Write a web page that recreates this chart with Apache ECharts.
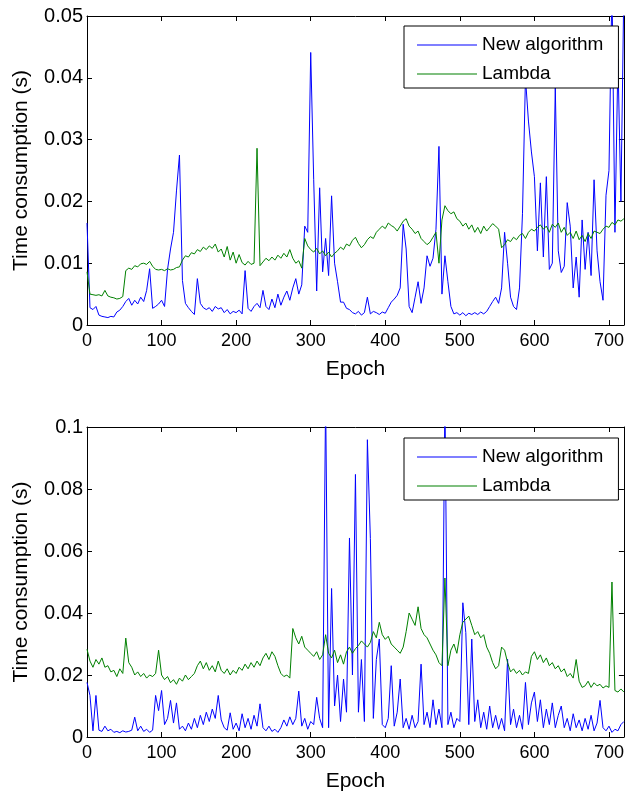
<!DOCTYPE html>
<html>
<head>
<meta charset="utf-8">
<script src="https://cdn.jsdelivr.net/npm/echarts@6/dist/echarts.min.js"></script>
<style>
html, body { margin: 0; padding: 0; background: #fff; }
#chart { width: 627px; height: 795px; }
</style>
</head>
<body>
<div id="chart"></div>
<script>
// one value every STEP epochs (rows of 10 = 40 epochs)
const STEP = 4;
const seriesNames = ['New algorithm', 'Lambda'];

// upper panel
const topNewAlgorithm = [
    0.0165, 0.0028, 0.0025, 0.0030, 0.0016, 0.0014, 0.0013, 0.0012, 0.0014, 0.0013,
    0.0021, 0.0024, 0.0030, 0.0038, 0.0043, 0.0032, 0.0040, 0.0034, 0.0045, 0.0038,
    0.0056, 0.0091, 0.0027, 0.0030, 0.0034, 0.0040, 0.0030, 0.0090, 0.0123, 0.0150,
    0.0217, 0.0275, 0.0072, 0.0035, 0.0028, 0.0022, 0.0017, 0.0075, 0.0035, 0.0028,
    0.0025, 0.0028, 0.0022, 0.0030, 0.0026, 0.0028, 0.0020, 0.0025, 0.0018, 0.0022,
    0.0020, 0.0024, 0.0018, 0.0088, 0.0027, 0.0022, 0.0030, 0.0035, 0.0028, 0.0056,
    0.0030, 0.0025, 0.0042, 0.0028, 0.0050, 0.0032, 0.0045, 0.0055, 0.0040, 0.0060,
    0.0075, 0.0050, 0.0065, 0.0160, 0.0150, 0.0441, 0.0235, 0.0055, 0.0222, 0.0086,
    0.0140, 0.0080, 0.0209, 0.0100, 0.0070, 0.0037, 0.0037, 0.0027, 0.0025, 0.0020,
    0.0018, 0.0022, 0.0016, 0.0020, 0.0045, 0.0018, 0.0022, 0.0020, 0.0017, 0.0021,
    0.0019, 0.0028, 0.0037, 0.0042, 0.0048, 0.0060, 0.0163, 0.0123, 0.0030, 0.0020,
    0.0045, 0.0070, 0.0035, 0.0060, 0.0112, 0.0095, 0.0108, 0.0155, 0.0289, 0.0050,
    0.0112, 0.0070, 0.0030, 0.0018, 0.0020, 0.0016, 0.0020, 0.0015, 0.0019, 0.0017,
    0.0020, 0.0017, 0.0021, 0.0018, 0.0022, 0.0030, 0.0038, 0.0045, 0.0035, 0.0060,
    0.0150, 0.0100, 0.0045, 0.0030, 0.0025, 0.0060, 0.0180, 0.0400, 0.0330, 0.0280,
    0.0240, 0.0120, 0.0230, 0.0110, 0.0240, 0.0090, 0.0100, 0.0385, 0.0120, 0.0085,
    0.0095, 0.0198, 0.0160, 0.0060, 0.0110, 0.0045, 0.0170, 0.0090, 0.0150, 0.0080,
    0.0235, 0.0120, 0.0070, 0.0040, 0.0210, 0.0250, 0.0550, 0.0150, 0.0430, 0.0200,
    0.0550
];
const topLambda = [
    0.0086, 0.0050, 0.0049, 0.0048, 0.0049, 0.0047, 0.0056, 0.0047, 0.0045, 0.0044,
    0.0042, 0.0043, 0.0046, 0.0088, 0.0092, 0.0090, 0.0096, 0.0094, 0.0099, 0.0100,
    0.0098, 0.0103, 0.0095, 0.0090, 0.0089, 0.0090, 0.0088, 0.0091, 0.0089, 0.0090,
    0.0093, 0.0094, 0.0105, 0.0112, 0.0110, 0.0117, 0.0115, 0.0122, 0.0119, 0.0126,
    0.0122, 0.0128, 0.0124, 0.0131, 0.0118, 0.0123, 0.0110, 0.0127, 0.0105, 0.0118,
    0.0100, 0.0114, 0.0101, 0.0097, 0.0103, 0.0098, 0.0100, 0.0286, 0.0096, 0.0102,
    0.0108, 0.0104, 0.0110, 0.0105, 0.0113, 0.0108, 0.0116, 0.0110, 0.0122, 0.0108,
    0.0100, 0.0104, 0.0092, 0.0140, 0.0128, 0.0122, 0.0118, 0.0124, 0.0115, 0.0120,
    0.0112, 0.0118, 0.0110, 0.0116, 0.0120, 0.0126, 0.0122, 0.0131, 0.0128, 0.0137,
    0.0142, 0.0132, 0.0125, 0.0130, 0.0138, 0.0143, 0.0140, 0.0150, 0.0155, 0.0160,
    0.0156, 0.0165, 0.0161, 0.0158, 0.0152, 0.0160, 0.0168, 0.0172, 0.0160, 0.0155,
    0.0148, 0.0152, 0.0140, 0.0135, 0.0130, 0.0134, 0.0142, 0.0150, 0.0100, 0.0170,
    0.0193, 0.0185, 0.0180, 0.0183, 0.0172, 0.0168, 0.0160, 0.0165, 0.0155, 0.0162,
    0.0150, 0.0158, 0.0148, 0.0160, 0.0152, 0.0158, 0.0164, 0.0160, 0.0155, 0.0125,
    0.0130, 0.0138, 0.0135, 0.0142, 0.0138, 0.0145, 0.0148, 0.0140, 0.0150, 0.0155,
    0.0152, 0.0158, 0.0162, 0.0155, 0.0160, 0.0150, 0.0163, 0.0158, 0.0165, 0.0150,
    0.0158, 0.0145, 0.0150, 0.0140, 0.0152, 0.0138, 0.0145, 0.0135, 0.0148, 0.0140,
    0.0152, 0.0150, 0.0148, 0.0155, 0.0160, 0.0158, 0.0166, 0.0162, 0.0170, 0.0168,
    0.0172
];

// lower panel
const bottomNewAlgorithm = [
    0.0176, 0.0134, 0.0020, 0.0134, 0.0022, 0.0018, 0.0035, 0.0020, 0.0025, 0.0015,
    0.0018, 0.0014, 0.0020, 0.0016, 0.0018, 0.0022, 0.0064, 0.0020, 0.0035, 0.0018,
    0.0025, 0.0015, 0.0022, 0.0134, 0.0085, 0.0150, 0.0040, 0.0060, 0.0118, 0.0045,
    0.0110, 0.0025, 0.0035, 0.0020, 0.0045, 0.0025, 0.0060, 0.0030, 0.0070, 0.0040,
    0.0080, 0.0050, 0.0090, 0.0060, 0.0134, 0.0055, 0.0030, 0.0022, 0.0078, 0.0025,
    0.0045, 0.0020, 0.0075, 0.0030, 0.0060, 0.0025, 0.0070, 0.0035, 0.0107, 0.0030,
    0.0020, 0.0035, 0.0018, 0.0025, 0.0015, 0.0030, 0.0055, 0.0035, 0.0065, 0.0040,
    0.0060, 0.0148, 0.0035, 0.0060, 0.0025, 0.0050, 0.0040, 0.0128, 0.0060, 0.0030,
    0.1100, 0.0030, 0.0479, 0.0100, 0.0200, 0.0050, 0.0187, 0.0080, 0.0642, 0.0200,
    0.0847, 0.0080, 0.0250, 0.0050, 0.0959, 0.0640, 0.0060, 0.0250, 0.0316, 0.0040,
    0.0030, 0.0060, 0.0230, 0.0035, 0.0080, 0.0187, 0.0030, 0.0060, 0.0025, 0.0070,
    0.0030, 0.0050, 0.0235, 0.0040, 0.0080, 0.0030, 0.0120, 0.0040, 0.0090, 0.0030,
    0.1100, 0.0040, 0.0080, 0.0030, 0.0060, 0.0050, 0.0433, 0.0337, 0.0040, 0.0316,
    0.0050, 0.0120, 0.0030, 0.0080, 0.0025, 0.0100, 0.0030, 0.0070, 0.0025, 0.0060,
    0.0020, 0.0251, 0.0040, 0.0090, 0.0030, 0.0070, 0.0025, 0.0176, 0.0040, 0.0110,
    0.0145, 0.0050, 0.0120, 0.0030, 0.0090, 0.0040, 0.0110, 0.0030, 0.0070, 0.0100,
    0.0030, 0.0060, 0.0020, 0.0075, 0.0030, 0.0055, 0.0020, 0.0060, 0.0025, 0.0070,
    0.0020, 0.0045, 0.0118, 0.0030, 0.0020, 0.0035, 0.0015, 0.0025, 0.0020, 0.0040,
    0.0050
];
const bottomLambda = [
    0.0283, 0.0245, 0.0225, 0.0250, 0.0235, 0.0255, 0.0225, 0.0230, 0.0210, 0.0215,
    0.0195, 0.0220, 0.0205, 0.0319, 0.0240, 0.0225, 0.0200, 0.0210, 0.0195, 0.0205,
    0.0190, 0.0200, 0.0195, 0.0205, 0.0280, 0.0200, 0.0185, 0.0195, 0.0175, 0.0185,
    0.0170, 0.0190, 0.0180, 0.0200, 0.0185, 0.0195, 0.0205, 0.0230, 0.0245, 0.0220,
    0.0240, 0.0215, 0.0230, 0.0210, 0.0245, 0.0215, 0.0205, 0.0220, 0.0200, 0.0215,
    0.0205, 0.0225, 0.0215, 0.0235, 0.0220, 0.0240, 0.0225, 0.0245, 0.0230, 0.0255,
    0.0270, 0.0250, 0.0275, 0.0260, 0.0230, 0.0205, 0.0195, 0.0200, 0.0190, 0.0350,
    0.0320, 0.0300, 0.0325, 0.0290, 0.0280, 0.0270, 0.0260, 0.0275, 0.0250, 0.0265,
    0.0330, 0.0270, 0.0255, 0.0280, 0.0240, 0.0265, 0.0235, 0.0275, 0.0290, 0.0270,
    0.0285, 0.0295, 0.0310, 0.0300, 0.0290, 0.0305, 0.0340, 0.0320, 0.0370, 0.0330,
    0.0315, 0.0325, 0.0300, 0.0290, 0.0280, 0.0270, 0.0290, 0.0340, 0.0400, 0.0380,
    0.0360, 0.0420, 0.0350, 0.0330, 0.0320, 0.0300, 0.0280, 0.0265, 0.0240, 0.0230,
    0.0513, 0.0230, 0.0280, 0.0300, 0.0270, 0.0330, 0.0370, 0.0380, 0.0390, 0.0360,
    0.0330, 0.0340, 0.0320, 0.0330, 0.0290, 0.0270, 0.0240, 0.0220, 0.0230, 0.0290,
    0.0280, 0.0240, 0.0210, 0.0220, 0.0205, 0.0215, 0.0200, 0.0210, 0.0205, 0.0260,
    0.0275, 0.0250, 0.0265, 0.0240, 0.0255, 0.0230, 0.0240, 0.0220, 0.0230, 0.0210,
    0.0220, 0.0195, 0.0205, 0.0190, 0.0250, 0.0180, 0.0160, 0.0165, 0.0180, 0.0160,
    0.0175, 0.0165, 0.0170, 0.0158, 0.0165, 0.0160, 0.0500, 0.0150, 0.0145, 0.0155,
    0.0145
];

const BLUE = '#0000ff';
const GREEN = '#008000';
const FONT = '"Liberation Sans", Arial, Helvetica, sans-serif';

function toPoints(vals) {
    return vals.map((v, i) => [i * STEP, v]);
}

function yLabel(v) {
    return String(parseFloat(v.toFixed(3)));
}

// bottom axis with labels + plain top axis (MATLAB box)
function makeXAxes(gridIndex) {
    return [
        {
            gridIndex: gridIndex, type: 'value', position: 'bottom',
            min: 0, max: 720, interval: 100,
            name: 'Epoch', nameLocation: 'middle', nameGap: 34,
            nameTextStyle: { fontSize: 21, color: '#000', fontFamily: FONT },
            axisLine: { show: true, onZero: false, lineStyle: { color: '#000', width: 1 } },
            axisTick: { show: true, inside: true, length: 5, lineStyle: { color: '#000' } },
            axisLabel: {
                margin: 7, fontSize: 18, color: '#000', fontFamily: FONT, showMaxLabel: false,
                formatter: v => (v % 100 === 0 ? String(v) : '')
            },
            splitLine: { show: false }
        },
        {
            gridIndex: gridIndex, type: 'value', position: 'top',
            min: 0, max: 720, interval: 100,
            axisLine: { show: true, onZero: false, lineStyle: { color: '#000', width: 1 } },
            axisTick: { show: true, inside: true, length: 5, lineStyle: { color: '#000' } },
            axisLabel: { show: false },
            splitLine: { show: false }
        }
    ];
}

function makeYAxes(gridIndex, max, interval) {
    return [
        {
            gridIndex: gridIndex, type: 'value', position: 'left',
            min: 0, max: max, interval: interval,
            name: 'Time consumption (s)', nameLocation: 'middle', nameGap: 55,
            nameTextStyle: { fontSize: 21, color: '#000', fontFamily: FONT },
            axisLine: { show: true, onZero: false, lineStyle: { color: '#000', width: 1 } },
            axisTick: { show: true, inside: true, length: 5, lineStyle: { color: '#000' } },
            axisLabel: { margin: 4, fontSize: 20, color: '#000', fontFamily: FONT, formatter: yLabel },
            splitLine: { show: false }
        },
        {
            gridIndex: gridIndex, type: 'value', position: 'right',
            min: 0, max: max, interval: interval,
            axisLine: { show: true, onZero: false, lineStyle: { color: '#000', width: 1 } },
            axisTick: { show: true, inside: true, length: 5, lineStyle: { color: '#000' } },
            axisLabel: { show: false },
            splitLine: { show: false }
        }
    ];
}

function makeLegend(top) {
    return {
        left: 404, top: top, orient: 'vertical',
        data: seriesNames,
        icon: 'rect', itemWidth: 60, itemHeight: 1, itemGap: 7,
        padding: [8, 15, 3, 13],
        borderColor: '#000', borderWidth: 1, backgroundColor: '#fff',
        selectedMode: false,
        textStyle: { fontSize: 19, lineHeight: 22, color: '#000', fontFamily: FONT }
    };
}

function makeLine(name, color, xIdx, yIdx, vals) {
    return {
        name: name, type: 'line',
        xAxisIndex: xIdx, yAxisIndex: yIdx,
        data: toPoints(vals),
        symbol: 'none', showSymbol: false,
        lineStyle: { width: 1, color: color },
        itemStyle: { color: color },
        clip: true
    };
}

let myChart = echarts.init(document.getElementById('chart'), null, { renderer: 'canvas' });
let option = {
    animation: false,
    backgroundColor: '#fff',
    grid: [
        { left: 87, top: 16, width: 539, height: 309 },
        { left: 87, top: 427, width: 539, height: 310 }
    ],
    legend: [makeLegend(26), makeLegend(438)],
    xAxis: makeXAxes(0).concat(makeXAxes(1)),
    yAxis: makeYAxes(0, 0.05, 0.01).concat(makeYAxes(1, 0.1, 0.02)),
    series: [
        makeLine(seriesNames[0], BLUE, 0, 0, topNewAlgorithm),
        makeLine(seriesNames[1], GREEN, 0, 0, topLambda),
        makeLine(seriesNames[0], BLUE, 2, 2, bottomNewAlgorithm),
        makeLine(seriesNames[1], GREEN, 2, 2, bottomLambda)
    ]
};
myChart.setOption(option);
</script>
</body>
</html>
